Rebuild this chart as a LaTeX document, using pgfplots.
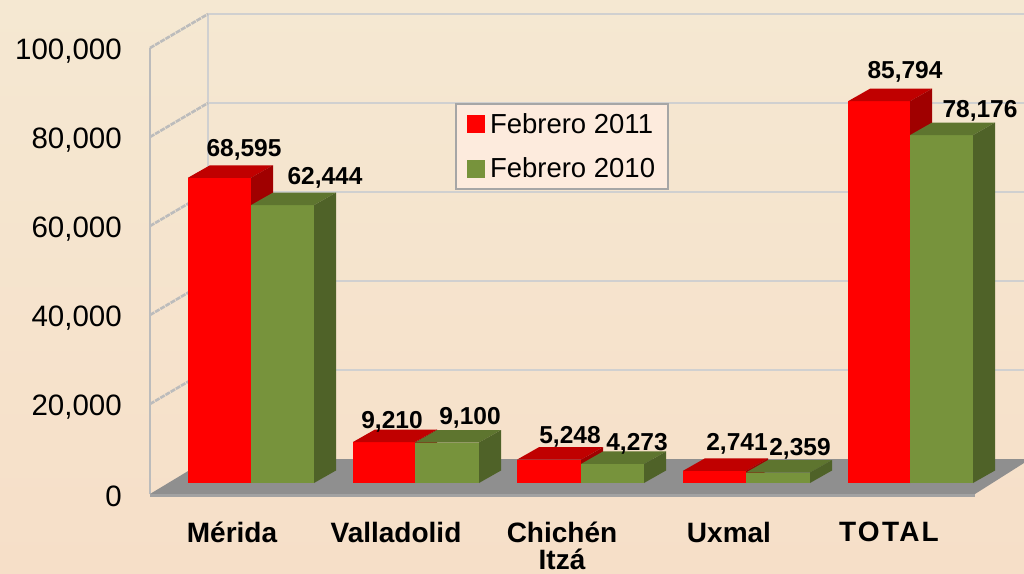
\documentclass[border=0pt]{standalone}
\usepackage{pgfplots}
\usepackage{fontspec}
\setmainfont{Liberation Sans}
\pgfplotsset{compat=1.18}
\definecolor{paperT}{HTML}{F5E8D2}
\definecolor{paperM}{HTML}{F5E5CE}
\definecolor{paperB}{HTML}{F6DFC8}
\definecolor{wall}{HTML}{D0D0D0}
\definecolor{wallL}{HTML}{BCBCBC}
\definecolor{floorc}{HTML}{8F8F8F}
\definecolor{lipc}{HTML}{A2A2A2}
\definecolor{redF}{HTML}{FF0000}
\definecolor{redT}{HTML}{C00000}
\definecolor{redS}{HTML}{A00000}
\definecolor{grnF}{HTML}{77933C}
\definecolor{grnT}{HTML}{5E752F}
\definecolor{grnS}{HTML}{4F6228}
\definecolor{legbg}{HTML}{FDEBDD}
\definecolor{legbd}{HTML}{A6A6A6}

% one 3D column: x left, x right, value, colour prefix
% depth is 22 px across and 12.5 px up (2809 in y units), base sits 10 px above the axis zero
\newcommand{\colbar}[4]{%
  \edef\xb{\the\numexpr #2+22\relax}%
  \edef\xc{\the\numexpr #1+22\relax}%
  \edef\yb{\the\numexpr #3+2809\relax}%
  \edef\next{\noexpand\addplot[draw=none,fill=#4F,forget plot,yshift=10pt] coordinates {(#1,0) (#1,#3) (#2,#3) (#2,0)};
    \noexpand\addplot[draw=none,fill=#4T,forget plot,yshift=10pt] coordinates {(#1,#3) (\xc,\yb) (\xb,\yb) (#2,#3)};
    \noexpand\addplot[draw=none,fill=#4S,forget plot,yshift=10pt] coordinates {(#2,0) (\xb,2809) (\xb,\yb) (#2,#3)};}%
  \next}
% value label: x, value, text, lift in px
\newcommand{\vlabel}[4]{\node[font=\fontsize{24.5}{26}\selectfont\bfseries,inner sep=0pt] at (axis cs:#1,#2) [yshift=#4pt] {#3};}

\begin{document}
\begin{tikzpicture}[x=1pt,y=1pt]
\path[use as bounding box] (-150pt,-80pt) rectangle (874pt,493pt);
\shade[top color=paperT,middle color=paperM,bottom color=paperB] (-150pt,-80pt) rectangle (874pt,493pt);
\begin{axis}[
  at={(0pt,0pt)},anchor=south west,
  scale only axis,
  width=874pt,height=493pt,
  xmin=150,xmax=1024,
  ymin=0,ymax=110787,
  clip=false,
  axis line style={draw=none},
  major tick length=0pt,
  tick style={draw=none},
  ytick={0,20000,40000,60000,80000,100000},
  scaled y ticks=false,
  /pgf/number format/assume math mode=true,
  /pgf/number format/fixed,
  /pgf/number format/1000 sep={,},
  yticklabel style={font=\fontsize{29.5}{32}\selectfont,inner sep=0pt,xshift=-28pt,yshift=-3.5pt},
  xtick={232,396,562,729,889},
  xticklabels={M\'erida,Valladolid,{Chich\'en\\Itz\'a},Uxmal,{\addfontfeature{LetterSpace=8}TOTAL}},
  xticklabel style={font=\fontsize{28}{27}\selectfont\bfseries,align=center,inner sep=0pt,yshift=-29pt},
  legend image code/.code={\fill[#1] (0pt,-8pt) rectangle (16pt,8pt);\path (19pt,0pt);},
  legend cell align=left,
  legend style={at={(axis cs:455,87640)},anchor=north west,fill=legbg,draw=legbd,line width=2pt,
    font=\fontsize{27.5}{29}\selectfont,inner xsep=11pt,inner ysep=7.5pt,row sep=19pt},
]
% back wall gridlines
\addplot[wall,line width=2.8pt,forget plot] coordinates {(208,107640) (1024,107640)};
\addplot[wall,line width=2.8pt,forget plot] coordinates {(208,87640) (1024,87640)};
\addplot[wall,line width=2.8pt,forget plot] coordinates {(208,67640) (1024,67640)};
\addplot[wall,line width=2.8pt,forget plot] coordinates {(208,47640) (1024,47640)};
\addplot[wall,line width=2.8pt,forget plot] coordinates {(208,27640) (1024,27640)};
\addplot[wall,line width=2.8pt,forget plot] coordinates {(208,7640) (208,107640)};
% left wall
\addplot[wallL,line width=2.8pt,forget plot] coordinates {(150,-200) (150,100000)};
\addplot[wallL,line width=2.6pt,dash pattern=on 5pt off 1pt,forget plot] coordinates {(150,100000) (208,107640)};
\addplot[wallL,line width=2.6pt,dash pattern=on 5pt off 1pt,forget plot] coordinates {(150,80000) (208,87640)};
\addplot[wallL,line width=2.6pt,dash pattern=on 5pt off 1pt,forget plot] coordinates {(150,60000) (208,67640)};
\addplot[wallL,line width=2.6pt,dash pattern=on 5pt off 1pt,forget plot] coordinates {(150,40000) (208,47640)};
\addplot[wallL,line width=2.6pt,dash pattern=on 5pt off 1pt,forget plot] coordinates {(150,20000) (208,27640)};
% floor
\addplot[draw=none,fill=floorc,forget plot] coordinates {(150,-225) (975,-225) (1024,6742) (1024,7640) (208,7640)};
\addplot[draw=none,fill=lipc,forget plot] coordinates {(150,-225) (975,-225) (975,-899) (150,-899)};
% columns
\colbar{188}{251}{68595}{red}
\colbar{251}{314}{62444}{grn}
\colbar{353}{415}{9210}{red}
\colbar{415}{479}{9100}{grn}
\colbar{517}{581}{5248}{red}
\colbar{581}{644}{4273}{grn}
\colbar{683}{746}{2741}{red}
\colbar{746}{810}{2359}{grn}
\colbar{848}{910}{85794}{red}
\colbar{910}{973}{78176}{grn}
% value labels
\vlabel{244}{68595}{68,595}{37.8}
\vlabel{325}{62444}{62,444}{37}
\vlabel{392}{9210}{9,210}{30}
\vlabel{470}{9100}{9,100}{34.5}
\vlabel{570}{5248}{5,248}{32.6}
\vlabel{637}{4273}{4,273}{30}
\vlabel{737}{2741}{2,741}{36.8}
\vlabel{800}{2359}{2,359}{33.5}
\vlabel{905}{85794}{85,794}{39}
\vlabel{980}{78176}{78,176}{34}
% legend
\addlegendimage{redF}
\addlegendentry{Febrero 2011}
\addlegendimage{grnF}
\addlegendentry{Febrero 2010}
\end{axis}
\end{tikzpicture}
\end{document}
